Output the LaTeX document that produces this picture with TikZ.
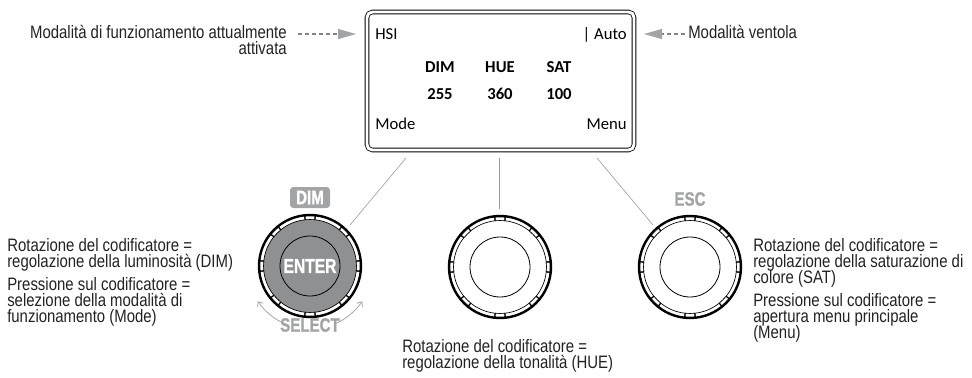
\documentclass[tikz,border=0pt]{standalone}
\usepackage{fontspec}
\newfontfamily\lblfont{Liberation Sans}[FakeStretch=0.83]
\newfontfamily\knobfontfam{Liberation Sans}[FakeStretch=0.78,FakeBold=1.2]
\newfontfamily\dispfont{Carlito}
\usetikzlibrary{arrows.meta}
\definecolor{knobgray}{HTML}{8E9092}
\definecolor{lblgray}{HTML}{A2A4A6}
\definecolor{linegray}{HTML}{9A9A9A}
\definecolor{txtgray}{HTML}{222222}
\tikzset{
  knobring/.pic={
    \draw[line width=1.8pt] (0,0) circle[radius=51];
    \draw[line width=0.5pt] (0,0) circle[radius=46.5];
    \foreach \a in {0,45,...,315} {
      \draw[line width=0.45pt, fill=white] ({\a-6}:46.5) arc[start angle={\a-6}, end angle={\a+6}, radius=46.5] -- ({\a+6}:50) arc[start angle={\a+6}, end angle={\a-6}, radius=50] -- cycle;
      \draw[line width=0.9pt] ({\a-6}:46.5) -- ({\a-6}:50.5);
      \draw[line width=0.9pt] ({\a+6}:46.5) -- ({\a+6}:50.5);
    }
    \draw[line width=0.6pt] (0,0) circle[radius=30];
  }
}
\begin{document}
\begin{tikzpicture}[x=0.75pt,y=-0.75pt,
  lbl/.style={font=\lblfont\fontsize{13.5pt}{12pt}\selectfont, text=txtgray, inner sep=0pt, anchor=base west},
  lble/.style={lbl, anchor=base east},
  disptext/.style={font=\dispfont\fontsize{12.5pt}{14pt}\selectfont, inner sep=0pt, anchor=base},
  dispbold/.style={font=\dispfont\bfseries\fontsize{12.5pt}{14pt}\selectfont, inner sep=0pt, anchor=base},
  knoblbl/.style={font=\knobfontfam\bfseries\fontsize{14.5pt}{15pt}\selectfont, inner sep=0pt},
  conn/.style={draw=linegray, line width=0.45pt},
  hint/.style={draw=lblgray!80!black, line width=0.8pt, dash pattern=on 3pt off 2.2pt, -{Triangle[length=13.5pt,width=7.5pt,color=lblgray,fill=lblgray]}},
  selarrow/.style={draw=lblgray, line width=0.6pt, -{Straight Barb[length=3pt,width=5pt]}}
]
\useasboundingbox (0,0) rectangle (972,378);

% display
\node[draw, double, double distance=2.2pt, line width=0.6pt, rounded corners=4pt,
      minimum width=200.25pt, minimum height=103.5pt, inner sep=0pt] (disp) at (500.5,81) {};
\node[disptext, anchor=base west] (tHSI) at (375,40) {HSI};
\node[disptext, anchor=base east] (tAuto) at (627,40) {| Auto};
\node[dispbold] (tDIM) at (440,73) {DIM};
\node[dispbold] (tHUE) at (500,73) {HUE};
\node[dispbold] (tSAT) at (559,73) {SAT};
\node[dispbold] (v255) at (440,100) {255};
\node[dispbold] (v360) at (500,100) {360};
\node[dispbold] (v100) at (559,100) {100};
\node[disptext, anchor=base west] (tMode) at (375,130) {Mode};
\node[disptext, anchor=base east] (tMenu) at (627,130) {Menu};

% top hints
\node[lble] (hlA) at (287,39) {Modalità di funzionamento attualmente};
\node[lble] (hlB) at (287,55) {attivata};
\coordinate (hL1) at (298,34);
\coordinate (hL2) at (356,34);
\draw[hint] (hL1) -- (hL2);
\node[lbl] (hr) at (688,39) {Modalità ventola};
\coordinate (hR1) at (685,34);
\coordinate (hR2) at (644,34);
\draw[hint] (hR1) -- (hR2);

% knobs
\coordinate (kL) at (310,266);
\coordinate (kM) at (500,267);
\coordinate (kR) at (690,267);
\fill[knobgray] (kL) circle[radius=46.5];
\pic at (kL) {knobring};
\pic at (kM) {knobring};
\pic at (kR) {knobring};
\node[knoblbl, text=white, font=\knobfontfam\bfseries\fontsize{15pt}{16pt}\selectfont] (enter) at (kL) {ENTER};
\node[knoblbl, fill=lblgray, text=white, rounded corners=2.5pt, minimum width=30pt, minimum height=15.75pt] (dimbox) at (310,197.5) {DIM};
\node[knoblbl, text=lblgray] (esc) at (690,199) {ESC};
\node[knoblbl, text=lblgray, font=\knobfontfam\bfseries\fontsize{14.5pt}{15pt}\selectfont] (select) at (310,325) {SELECT};
\draw[selarrow] (kL) ++(113:63) arc[start angle=113, end angle=146, radius=63];
\draw[selarrow] (kL) ++(67:63) arc[start angle=67, end angle=34, radius=63];

% connectors
\coordinate (dL) at (406,158);
\coordinate (dM) at (499,158);
\coordinate (dR) at (597,158);
\coordinate (eL) at (350,225);
\coordinate (eM) at (499,209);
\coordinate (eR) at (653,225);
\draw[conn] (dL) -- (eL);
\draw[conn] (dM) -- (eM);
\draw[conn] (dR) -- (eR);

% left labels
\node[lbl] (l1) at (7,251) {Rotazione del codificatore =};
\node[lbl] (l2) at (7,267) {regolazione della luminosità (DIM)};
\node[lbl] (l3) at (7,290) {Pressione sul codificatore =};
\node[lbl] (l4) at (7,306) {selezione della modalità di};
\node[lbl] (l5) at (7,322) {funzionamento (Mode)};

% middle labels
\node[lbl] (m1) at (402,352) {Rotazione del codificatore =};
\node[lbl] (m2) at (402,368) {regolazione della tonalità (HUE)};

% right labels
\node[lbl] (r1) at (753,251) {Rotazione del codificatore =};
\node[lbl] (r2) at (753,267) {regolazione della saturazione di};
\node[lbl] (r3) at (753,283) {colore (SAT)};
\node[lbl] (r4) at (753,306) {Pressione sul codificatore =};
\node[lbl] (r5) at (753,322) {apertura menu principale};
\node[lbl] (r6) at (753,338) {(Menu)};
\end{tikzpicture}
\end{document}
